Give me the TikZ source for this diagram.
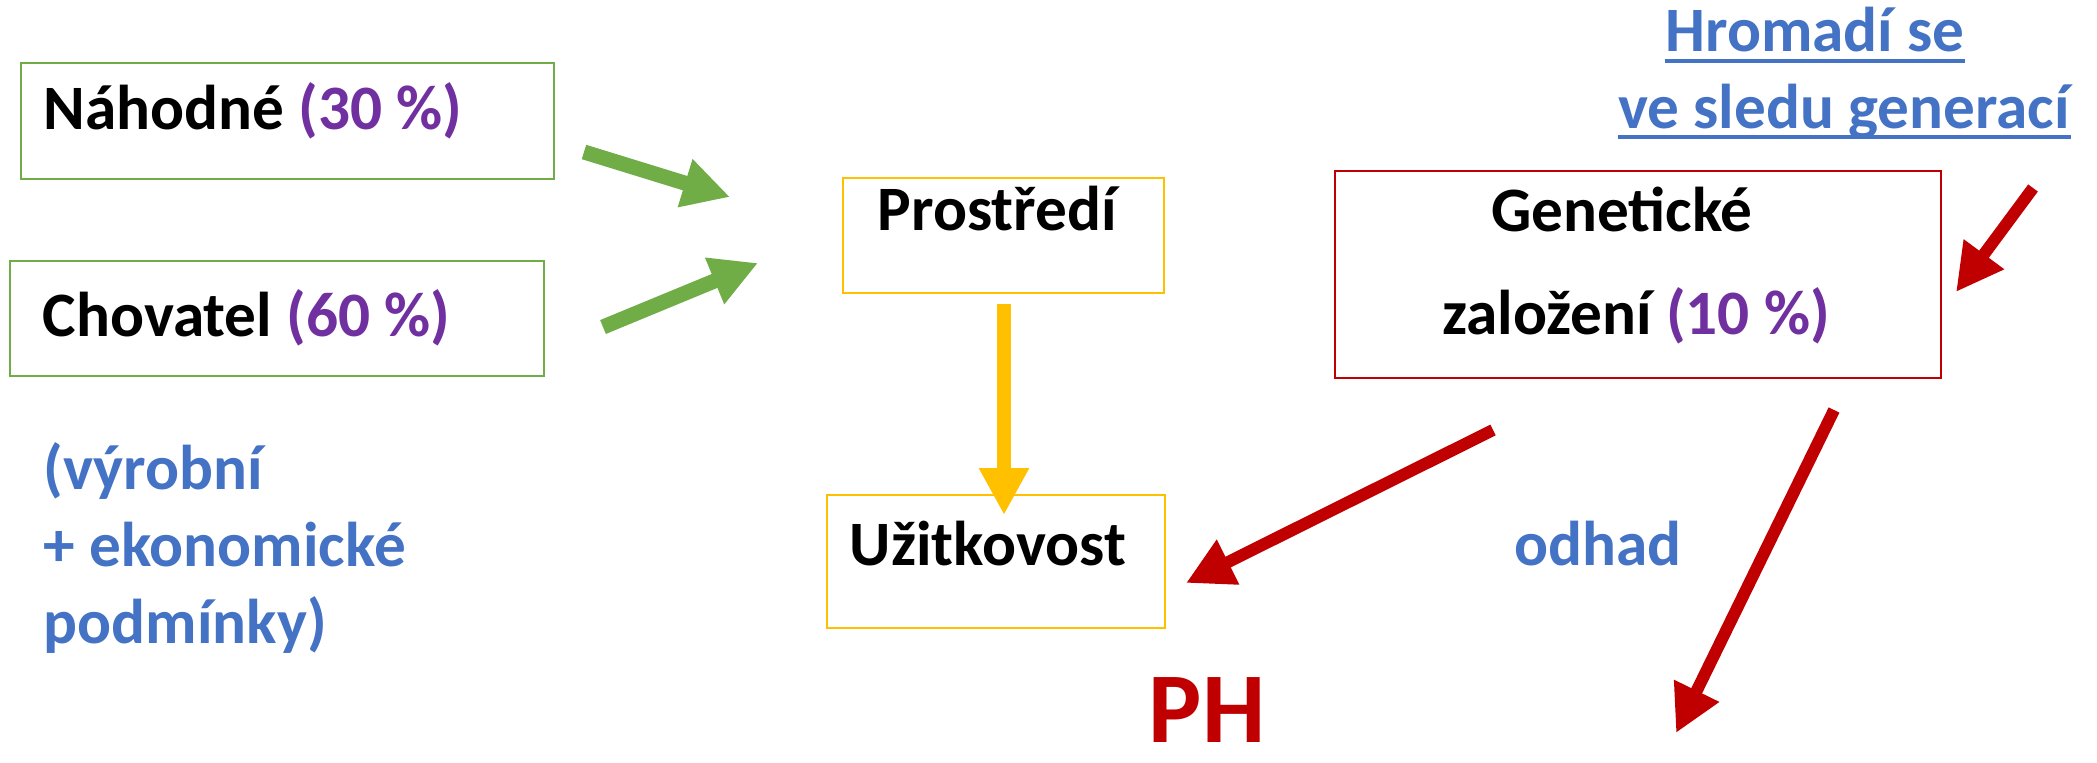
\documentclass[tikz,border=0pt]{standalone}
\usepackage{fontspec}
\setmainfont{Carlito}
\usetikzlibrary{arrows.meta}
\definecolor{grn}{HTML}{70AD47}
\definecolor{ylw}{HTML}{FFC000}
\definecolor{rd}{HTML}{C00000}
\definecolor{blu}{HTML}{4472C4}
\definecolor{prp}{HTML}{7030A0}

\begin{document}
\begin{tikzpicture}[x=1cm,y=-1cm, box/.style={draw,line width=0.025cm,inner sep=0pt}, txt/.style={inner sep=0pt,font=\fontsize{18}{21.9}\selectfont\bfseries}, >={Triangle[length=0.47cm,width=0.47cm]}, grnarrow/.style={grn,line width=0.15cm}, rdarrow/.style={rd,line width=0.12cm}]
	\useasboundingbox (0,0) rectangle (20.97,7.62);
	% boxes
	\node[box,draw=grn,minimum width=5.33cm,minimum height=1.16cm] (nahodne) at (2.875,1.21) {};
	\node[box,draw=grn,minimum width=5.34cm,minimum height=1.15cm] (chovatel) at (2.77,3.185) {};
	\node[box,draw=ylw,minimum width=3.21cm,minimum height=1.15cm] (prostredi) at (10.035,2.355) {};
	\node[box,draw=ylw,minimum width=3.38cm,minimum height=1.33cm] (uzitkovost) at (9.96,5.615) {};
	\node[box,draw=rd,minimum width=6.06cm,minimum height=2.07cm] (geneticke) at (16.38,2.745) {};
	% texts
	\node[txt,anchor=base west] (nahtxt) at (0.43,1.29) {Náhodné {\color{prp}(30 \%)}};
	\node[txt,anchor=base west] (chovtxt) at (0.42,3.36) {Chovatel {\color{prp}(60 \%)}};
	\node[txt,anchor=base west] (prostxt) at (8.77,2.30) {Prostředí};
	\node[txt,anchor=base west] (uzittxt) at (8.49,5.65) {Užitkovost};
	\node[txt,anchor=base] (gentxt) at (16.22,2.31) {Genetické};
	\node[txt,anchor=base] (zaltxt) at (16.36,3.34) {založení {\color{prp}(10 \%)}};
	\node[txt,anchor=base,blu] (hromadi) at (18.15,0.51) {Hromadí se};
	\node[txt,anchor=base,blu] (sledu) at (18.44,1.28) {ve sledu generací};
	\draw[blu,line width=0.04cm] ([yshift=-0.1cm]hromadi.base west) -- ([yshift=-0.1cm]hromadi.base east);
	\draw[blu,line width=0.04cm] ([yshift=-0.09cm]sledu.base west) -- ([yshift=-0.09cm]sledu.base east);
	\node[txt,anchor=base west,blu] (vyrobni) at (0.43,4.89) {(výrobní};
	\node[txt,anchor=base west,blu] (ekonom) at ([yshift=-0.77cm]vyrobni.base west) {+ ekonomické};
	\node[txt,anchor=base west,blu] (podminky) at ([yshift=-0.77cm]ekonom.base west) {podmínky)};
	\node[txt,anchor=base,blu] (odhad) at (15.98,5.65) {odhad};
	\node[txt,anchor=base,rd,font=\fontsize{28.5}{34}\selectfont\bfseries] (ph) at (12.07,7.42) {PH};
	% arrows
	\coordinate (g1a) at (5.84,1.52);
	\coordinate (g1b) at (7.30,1.97);
	\coordinate (g2a) at (6.03,3.27);
	\coordinate (g2b) at (7.58,2.63);
	\coordinate (y1a) at (10.04,3.04);
	\coordinate (y1b) at (10.04,5.15);
	\coordinate (r1a) at (20.33,1.88);
	\coordinate (r1b) at (19.56,2.92);
	\coordinate (r2a) at (14.93,4.30);
	\coordinate (r2b) at (11.86,5.83);
	\coordinate (r3a) at (18.34,4.10);
	\coordinate (r3b) at (16.76,7.33);
	\draw [->,grnarrow] (g1a) to (g1b);
	\draw [->,grnarrow] (g2a) to (g2b);
	\draw [->,ylw,line width=0.14cm] (y1a) to (y1b);
	\draw [->,rdarrow] (r1a) to (r1b);
	\draw [->,rdarrow] (r2a) to (r2b);
	\draw [->,rdarrow] (r3a) to (r3b);
\end{tikzpicture}
\end{document}
